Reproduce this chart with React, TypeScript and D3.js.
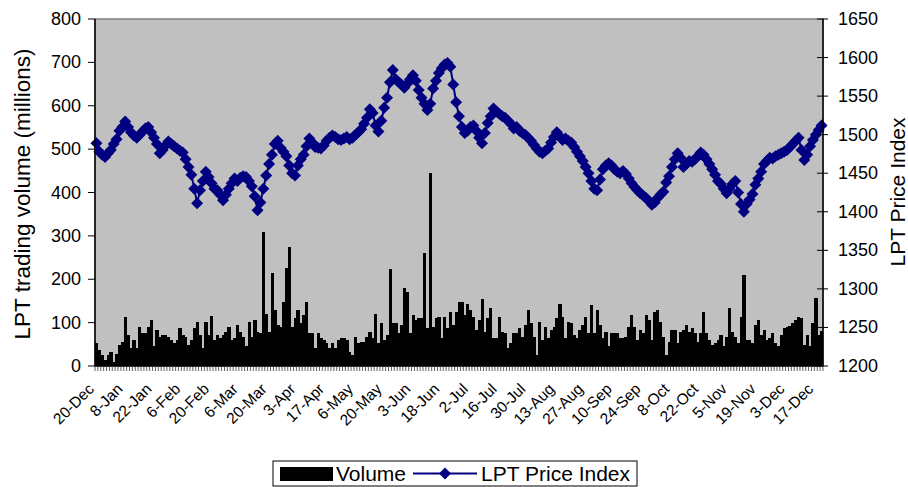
import React from 'react';
import * as d3 from 'd3';

const volume: number[] = [
  53, 37, 25, 14, 25, 33, 10, 28, 48, 56, 114, 71, 41, 60, 41, 91, 76, 75, 91, 106,
  45, 83, 68, 71, 71, 68, 60, 53, 60, 87, 71, 68, 48, 60, 87, 102, 71, 41, 102, 71,
  115, 60, 71, 64, 71, 79, 91, 60, 64, 94, 79, 68, 45, 102, 68, 106, 79, 76, 310, 121,
  79, 214, 129, 94, 91, 148, 225, 275, 91, 110, 129, 98, 118, 148, 76, 76, 41, 76, 64, 60,
  52, 41, 52, 41, 60, 64, 65, 60, 33, 25, 68, 52, 56, 56, 68, 79, 64, 121, 52, 98,
  60, 71, 223, 98, 98, 76, 94, 179, 171, 76, 118, 106, 110, 110, 260, 87, 444, 91, 110, 114,
  64, 114, 87, 125, 94, 125, 148, 148, 118, 144, 129, 114, 83, 106, 154, 79, 110, 133, 64, 64,
  114, 79, 76, 41, 52, 76, 76, 87, 68, 94, 129, 98, 68, 25, 102, 60, 91, 64, 83, 91,
  110, 144, 114, 64, 102, 98, 71, 64, 83, 95, 114, 76, 141, 76, 129, 94, 64, 79, 45, 76,
  76, 75, 64, 64, 68, 91, 118, 91, 60, 83, 76, 118, 106, 60, 125, 128, 102, 68, 25, 56,
  83, 83, 52, 79, 83, 94, 79, 87, 76, 56, 76, 125, 76, 60, 48, 52, 60, 71, 45, 68,
  133, 79, 68, 52, 114, 210, 60, 60, 52, 94, 106, 71, 83, 60, 64, 75, 52, 45, 71, 87,
  91, 92, 99, 106, 114, 110, 48, 71, 45, 98, 156, 71, 80,
];

const price: number[] = [
  1489, 1478, 1474, 1471, 1476, 1480, 1488, 1494, 1505, 1510, 1517, 1510, 1503, 1499, 1496, 1500, 1504, 1508, 1510, 1503,
  1496, 1488, 1476, 1480, 1486, 1491, 1488, 1485, 1482, 1479, 1477, 1468, 1458, 1448, 1430, 1411, 1428, 1440, 1452, 1445,
  1437, 1430, 1428, 1422, 1415, 1422, 1430, 1437, 1443, 1440, 1444, 1446, 1445, 1440, 1433, 1420, 1402, 1412, 1430, 1447,
  1462, 1474, 1488, 1492, 1483, 1478, 1472, 1460, 1450, 1447, 1460, 1468, 1474, 1485, 1495, 1490, 1484, 1483, 1482, 1486,
  1492, 1496, 1499, 1497, 1494, 1493, 1495, 1497, 1494, 1496, 1500, 1503, 1507, 1514, 1522, 1533, 1528, 1512, 1504, 1518,
  1535, 1548, 1568, 1584, 1572, 1568, 1565, 1561, 1566, 1572, 1577, 1570, 1558, 1548, 1540, 1532, 1540, 1560, 1570, 1580,
  1586, 1591, 1593, 1588, 1565, 1542, 1524, 1510, 1502, 1505, 1510, 1512, 1505, 1496, 1489, 1502, 1515, 1524, 1534, 1530,
  1527, 1524, 1522, 1518, 1514, 1508, 1510, 1505, 1502, 1500, 1496, 1492, 1487, 1482, 1478, 1476, 1479, 1482, 1490, 1497,
  1503, 1498, 1493, 1495, 1492, 1490, 1484, 1478, 1472, 1466, 1458, 1450, 1440, 1430, 1428, 1442, 1455, 1460, 1463, 1460,
  1455, 1452, 1450, 1453, 1449, 1443, 1437, 1432, 1428, 1424, 1421, 1418, 1414, 1409, 1412, 1418, 1422, 1426, 1438, 1446,
  1458, 1468, 1476, 1470, 1458, 1462, 1466, 1465, 1468, 1472, 1477, 1474, 1468, 1462, 1455, 1448, 1440, 1436, 1430, 1424,
  1430, 1436, 1440, 1425, 1410, 1400, 1410, 1416, 1423, 1435, 1443, 1452, 1462, 1466, 1470, 1469, 1472, 1474, 1476, 1478,
  1480, 1484, 1488, 1492, 1496, 1480, 1467, 1474, 1485, 1493, 1500, 1506, 1512,
];

const dateLabels: string[] = [
  '20-Dec', '8-Jan', '22-Jan', '6-Feb', '20-Feb', '6-Mar', '20-Mar', '3-Apr', '17-Apr', '6-May',
  '20-May', '3-Jun', '18-Jun', '2-Jul', '16-Jul', '30-Jul', '13-Aug', '27-Aug', '10-Sep', '24-Sep',
  '8-Oct', '22-Oct', '5-Nov', '19-Nov', '3-Dec', '17-Dec',
];
const labelEvery = 10;

const volumeTicks = [0, 100, 200, 300, 400, 500, 600, 700, 800];
const priceTicks = [1200, 1250, 1300, 1350, 1400, 1450, 1500, 1550, 1600, 1650];

const FONT = '"Liberation Sans", Arial, Helvetica, sans-serif';
const NAVY = '#000080';

const diamond = (cx: number, cy: number, r: number) =>
  `M${cx},${cy - r}L${cx + r},${cy}L${cx},${cy + r}L${cx - r},${cy}Z`;

export default function App() {
  const W = 908;
  const H = 487;
  const L = 95, R = 823, T = 19, B = 366;
  const N = volume.length;
  const x = d3.scaleBand<number>().domain(d3.range(N)).range([L, R]).padding(0);
  const step = x.step();
  const yL = d3.scaleLinear().domain([0, 800]).range([B, T]);
  const yR = d3.scaleLinear().domain([1200, 1650]).range([B, T]);
  const cx = (i: number) => (x(i) as number) + step / 2;
  const line = d3.line<number>().x((_, i) => cx(i)).y((d) => yR(d));

  return (
    <svg width={W} height={H} style={{ position: 'absolute', left: 0, top: 0, background: '#fff' }} fontFamily={FONT}>
      <rect x={L} y={T} width={R - L} height={B - T} fill="#C0C0C0" stroke="#808080" strokeWidth={1.5} />
      {/* volume bars */}
      <g fill="#000" shapeRendering="crispEdges">
        {volume.map((v, i) => (
          <rect key={i} x={x(i) as number} y={yL(v)} width={step + 0.4} height={B - yL(v)} />
        ))}
      </g>
      {/* price line */}
      <path d={line(price) || ''} fill="none" stroke={NAVY} strokeWidth={2} />
      <g fill={NAVY}>
        {price.map((p, i) => (
          <path key={i} d={diamond(cx(i), yR(p), 6)} />
        ))}
      </g>
      {/* axes lines */}
      <line x1={L} x2={L} y1={T} y2={B} stroke="#000" strokeWidth={1.5} />
      <line x1={R} x2={R} y1={T} y2={B} stroke="#000" strokeWidth={1.5} />
      <line x1={L} x2={R} y1={B} y2={B} stroke="#000" strokeWidth={1.5} />
      {/* left ticks */}
      {volumeTicks.map((t) => (
        <g key={t}>
          <line x1={88} x2={L} y1={yL(t)} y2={yL(t)} stroke="#000" />
          <text x={81} y={yL(t)} textAnchor="end" dominantBaseline="central" fontSize={18}>{t}</text>
        </g>
      ))}
      {/* right ticks */}
      {priceTicks.map((t) => (
        <g key={t}>
          <line x1={R - 6} x2={R + 5} y1={yR(t)} y2={yR(t)} stroke="#000" />
          <text x={838} y={yR(t)} textAnchor="start" dominantBaseline="central" fontSize={18}>{t}</text>
        </g>
      ))}
      {/* x category ticks */}
      <g stroke="#333" strokeWidth={0.8}>
        {d3.range(N + 1).map((k) => (
          <line key={k} x1={L + k * step} x2={L + k * step} y1={B} y2={B + 5} />
        ))}
      </g>
      {/* x labels */}
      {dateLabels.map((lab, j) => {
        const i = j * labelEvery;
        const px = cx(i) - 1.5;
        const py = 390;
        return (
          <text key={lab} x={px} y={py} transform={`rotate(-45 ${px} ${py})`} textAnchor="end" fontSize={15.5}>
            {lab}
          </text>
        );
      })}
      {/* axis titles */}
      <text transform="translate(30,194) rotate(-90)" textAnchor="middle" fontSize={22.5}>
        LPT trading volume (millions)
      </text>
      <text transform="translate(905,192) rotate(-90)" textAnchor="middle" fontSize={21}>
        LPT Price Index
      </text>
      {/* legend */}
      <rect x={273} y={461} width={364} height={25} fill="#fff" stroke="#000" strokeWidth={1} />
      <rect x={280} y={467} width={53} height={14} fill="#000" />
      <text x={336} y={481} fontSize={21}>Volume</text>
      <line x1={413} x2={477} y1={473.5} y2={473.5} stroke={NAVY} strokeWidth={2} />
      <path d={diamond(445, 473.5, 6)} fill={NAVY} />
      <text x={481} y={481} fontSize={21}>LPT Price Index</text>
    </svg>
  );
}
